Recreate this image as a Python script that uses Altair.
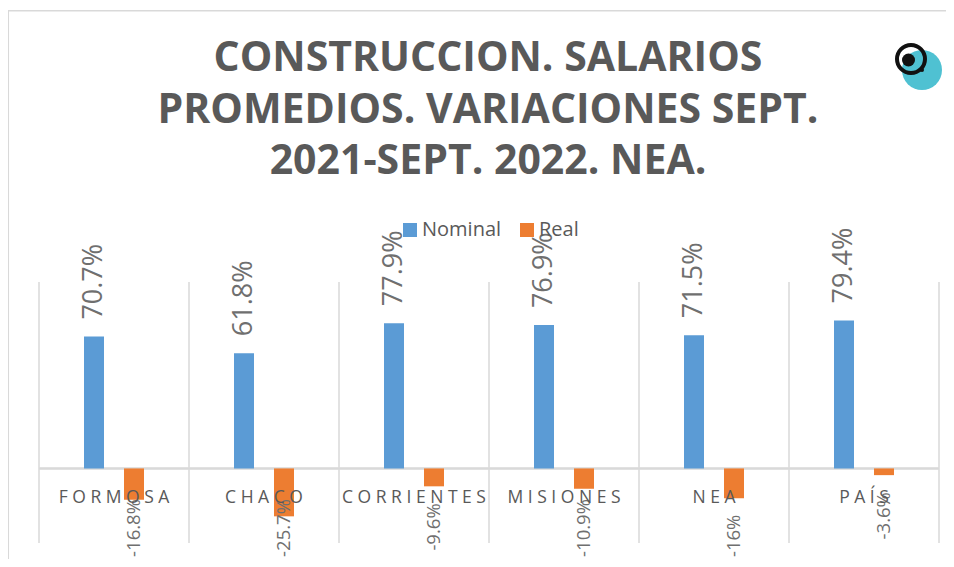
import altair as alt
import pandas as pd

# ---- data ----
categories = ["FORMOSA", "CHACO", "CORRIENTES", "MISIONES", "NEA", "PAÍS"]
nominal = [70.7, 61.8, 77.9, 76.9, 71.5, 79.4]
real = [-16.8, -25.7, -9.6, -10.9, -16.0, -3.6]
series = ["Nominal", "Real"]
colors = ["#5b9bd5", "#ed7d31"]
title_lines = ["CONSTRUCCION. SALARIOS", "PROMEDIOS. VARIACIONES SEPT.", "2021-SEPT. 2022. NEA."]

# ---- layout ----
W, H = 900, 261
STEP = W / len(categories)
Y_MIN, Y_MAX = -40, 100
PX = H / (Y_MAX - Y_MIN)          # pixels per unit
NOM_FS = 27
REAL_FS = 18.5
CAT_FS = 17.5
GRAY = "#595959"
LBL_GRAY = "#6f6f6f"
GRID = "#d9d9d9"
FONT = "Open Sans"
OFF = {"Nominal": -20, "Real": 20}

CW = {".": 0.27, "-": 0.32, "%": 0.85}


def text_len(t, size):
    return sum(CW.get(ch, 0.572) for ch in t) * size


def fmt(v):
    return f"{v:g}%"


def spaced(s):
    return " ".join(s)


LIMIT = 89  # px below zero line where the drawing ends


def real_anchor(v, t):
    end_px = min(-v * PX + 17, LIMIT - text_len(t, REAL_FS))
    return -end_px / PX


rows = []
for i, c in enumerate(categories):
    for s, v in zip(series, (nominal[i], real[i])):
        rows.append({"cat": c, "series": s, "value": v, "text": fmt(v),
                     "anchor": real_anchor(v, fmt(v)) if s == "Real" else v})
df = pd.DataFrame(rows)
df_nom = df[df.series == "Nominal"]
df_real = df[df.series == "Real"]
df_cat = pd.DataFrame({"cat": categories, "label": [spaced(c) for c in categories]})
df_title = pd.DataFrame({"t": ["\n".join(title_lines)]})
one = pd.DataFrame({"k": [0]})

xscale = alt.Scale(domain=categories, paddingInner=0, paddingOuter=0)
yscale = alt.Scale(domain=[Y_MIN, Y_MAX], nice=False, zero=False)
cscale = alt.Scale(domain=series, range=colors)

legend = alt.Legend(title=None, orient="none", direction="horizontal",
                    legendX=361, legendY=-62, symbolType="square",
                    symbolSize=196, symbolStrokeWidth=0,
                    labelFont=FONT, labelFontSize=20, labelColor=GRAY,
                    labelOffset=2, columnPadding=15, padding=0)

frame_top = alt.Chart(one).mark_rule(color=GRID, strokeWidth=1.5).encode(
    x=alt.value(-31), x2=alt.value(1000), y=alt.value(-271.3)
)
frame_left = alt.Chart(one).mark_rule(color=GRID, strokeWidth=1.5).encode(
    x=alt.value(-30.7), y=alt.value(-272), y2=alt.value(400)
)

grid = alt.Chart(df_cat).mark_rule(xOffset=-STEP / 2, color=GRID, strokeWidth=1.5).encode(
    x=alt.X("cat:N", scale=xscale, axis=None)
)
grid_end = alt.Chart(one).mark_rule(color=GRID, strokeWidth=1.5).encode(
    x=alt.value(W), y=alt.value(0), y2=alt.value(H)
)

zero = alt.Chart(df_cat).mark_rule(color=GRID, strokeWidth=1.5).encode(
    y=alt.Y("z:Q", scale=yscale, axis=None)
).transform_calculate(z="0")


def bar_layer(d, s):
    return alt.Chart(d).mark_bar(width=20, xOffset=OFF[s]).encode(
        x=alt.X("cat:N", scale=xscale, axis=None),
        y=alt.Y("value:Q", scale=yscale, axis=None),
        color=alt.Color("series:N", scale=cscale, legend=legend),
    )


bars_nom = bar_layer(df_nom, "Nominal")
bars_real = bar_layer(df_real, "Real")

nom_labels = alt.Chart(df_nom).mark_text(
    angle=270, align="left", baseline="middle", dx=17, xOffset=OFF["Nominal"],
    fontSize=NOM_FS, font=FONT, color=LBL_GRAY
).encode(
    x=alt.X("cat:N", scale=xscale, axis=None),
    y=alt.Y("anchor:Q", scale=yscale, axis=None), text="text:N"
)

real_labels = alt.Chart(df_real).mark_text(
    angle=270, align="right", baseline="middle", xOffset=OFF["Real"],
    fontSize=REAL_FS, font=FONT, color=LBL_GRAY
).encode(
    x=alt.X("cat:N", scale=xscale, axis=None),
    y=alt.Y("anchor:Q", scale=yscale, axis=None), text="text:N"
)

cat_labels = alt.Chart(df_cat).mark_text(
    baseline="alphabetic", dy=35, fontSize=CAT_FS, font=FONT, color=GRAY
).encode(
    x=alt.X("cat:N", scale=xscale, axis=None),
    y=alt.Y("z:Q", scale=yscale, axis=None), text="label:N"
).transform_calculate(z="0")

title = alt.Chart(df_title).mark_text(
    align="center", baseline="top", font=FONT, fontWeight="bold", lineBreak="\n",
    fontSize=41, lineHeight=51.5, color=GRAY
).encode(x=alt.value(449), y=alt.value(-243), text="t:N")

logo_teal = alt.Chart(one).mark_point(filled=True, color="#4fc1d2", opacity=1, size=1600).encode(
    x=alt.value(883), y=alt.value(-212))
logo_ring = alt.Chart(one).mark_point(filled=False, color="#111111", opacity=1, size=784,
                                      strokeWidth=4).encode(x=alt.value(872), y=alt.value(-223))
logo_dot = alt.Chart(one).mark_point(filled=True, color="#111111", opacity=1, size=169).encode(
    x=alt.value(869.5), y=alt.value(-222))
logo_dot2 = alt.Chart(one).mark_point(filled=True, color="#111111", opacity=1, size=16).encode(
    x=alt.value(883), y=alt.value(-212))

chart = alt.layer(
    frame_top, frame_left, grid, grid_end, zero, bars_nom, bars_real, nom_labels, real_labels,
    cat_labels, title, logo_teal, logo_ring, logo_dot, logo_dot2
).properties(
    width=W, height=H,
    autosize=alt.AutoSizeParams(type="none"),
    padding={"left": 31, "top": 274, "right": 7, "bottom": 16},
).configure_view(stroke=None)

chart.save("out.html", embed_options={"renderer": "svg", "actions": False})
